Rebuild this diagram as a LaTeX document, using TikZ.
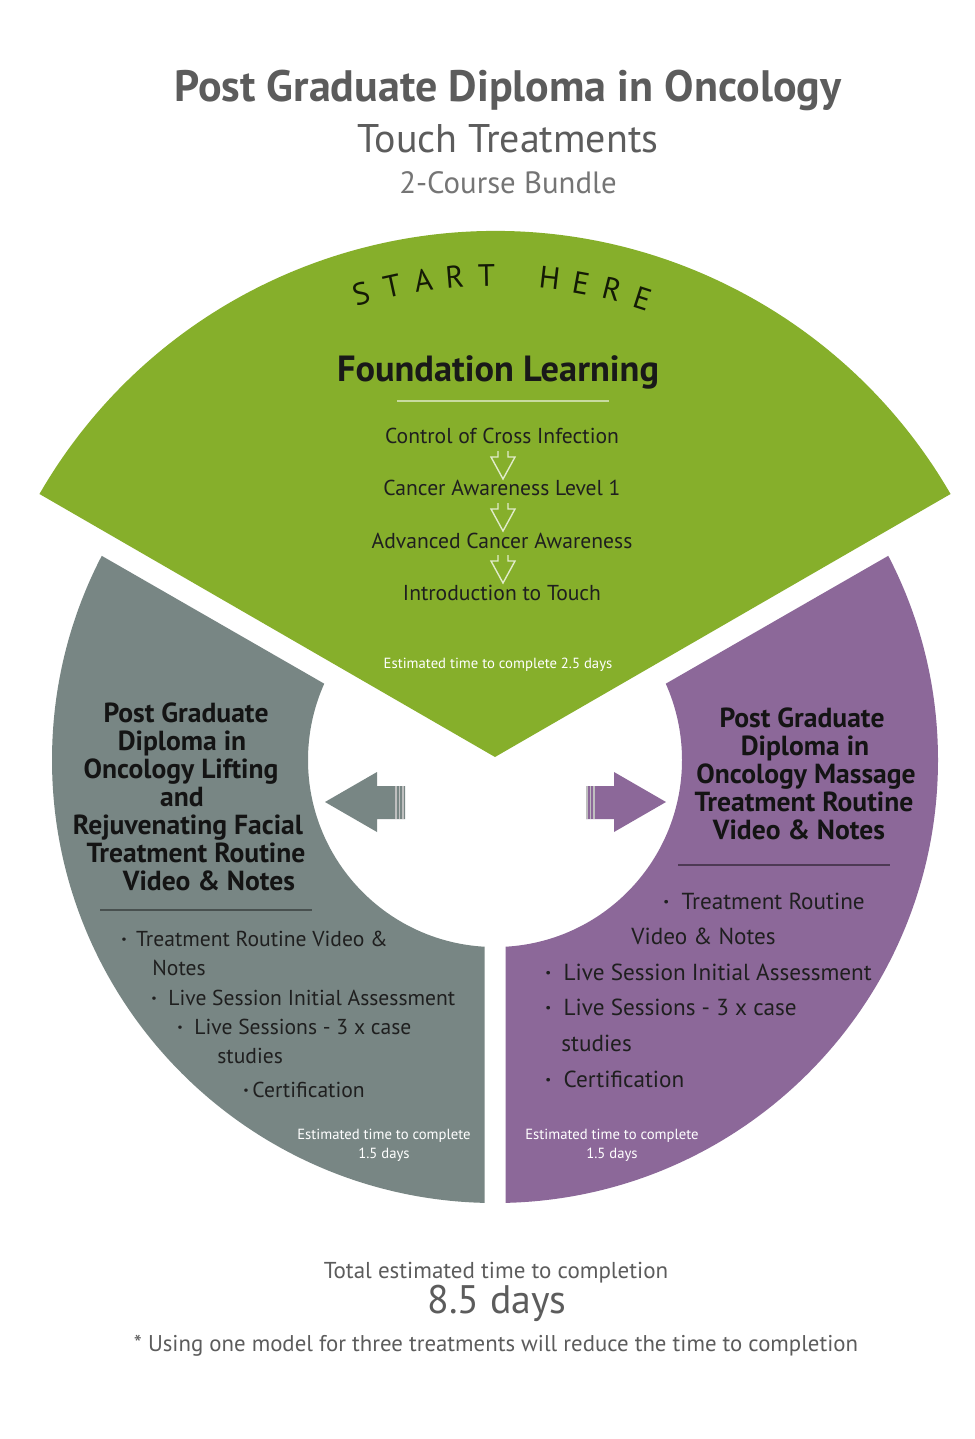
\documentclass[tikz,border=0pt]{standalone}
\usepackage{fontspec}
\setmainfont{PT Sans}
\usepackage{xcolor}
\usepackage{tikz}
\usetikzlibrary{calc}

\definecolor{leaf}{RGB}{134,175,43}
\definecolor{slate}{RGB}{120,134,132}
\definecolor{plum}{RGB}{140,104,153}
\definecolor{ink}{RGB}{92,92,92}

\tikzset{
  lbl/.style={inner sep=0pt, text height=0.7em, text depth=0pt},
  hdr/.style={lbl, font=\fontsize{13.8}{14}\selectfont\bfseries, text=black!92},
  blt/.style={lbl, anchor=west, font=\fontsize{10.8}{11}\selectfont, text=black!88},
  bltb/.style={blt, font=\fontsize{11.6}{12}\selectfont},
  fl/.style={lbl, font=\fontsize{10.8}{11}\selectfont, text=black!88},
  est/.style={lbl, font=\fontsize{7.35}{8}\selectfont, text=white},
  chev/.style={draw=leaf!25!white, line width=0.7pt, line join=miter},
  stripe/.style={draw=white!75!black, line width=0.55pt}
}

\begin{document}
\begin{tikzpicture}[x=0.5pt,y=-0.5pt]
    \useasboundingbox[fill=white] (0,0) rectangle (974,1439);

    % titel
    \node[lbl, font=\fontsize{22}{23}\selectfont\bfseries, text=ink] (title) at (508,95) {Post Graduate Diploma in Oncology};
    \node[lbl, font=\fontsize{20}{21}\selectfont, text=ink] (subtitle) at (508,146) {Touch Treatments};
    \node[lbl, font=\fontsize{15.4}{16}\selectfont, text=ink!85] (bundle) at (508,187) {2-Course Bundle};

    % segmente
    \fill[leaf] (495,757) -- ++(-150:526) arc[start angle=-150, end angle=-30, radius=526] -- cycle;
    \begin{scope}
        \clip (-10,491.6) -- (484.5,775.8) -- (484.5,1450) -- (-10,1450) -- cycle;
        \fill[slate, even odd rule] (495,760) circle[radius=443] (495,760) circle[radius=187];
    \end{scope}
    \begin{scope}
        \clip (1000,491.6) -- (505.5,775.8) -- (505.5,1450) -- (1000,1450) -- cycle;
        \fill[plum, even odd rule] (495,760) circle[radius=443] (495,760) circle[radius=187];
    \end{scope}

    % pfeile
    \fill[slate] (325,802) -- (377,772) -- (377,786) -- (405,786) -- (405,819) -- (377,819) -- (377,832) -- cycle;
    \fill[plum] (666,802) -- (614,772) -- (614,786) -- (586,786) -- (586,819) -- (614,819) -- (614,832) -- cycle;
    \foreach \sx in {396,399.5,403} {
        \draw[stripe] (\sx,786) -- (\sx,819);
        \draw[stripe] (990-\sx,786) -- (990-\sx,819);
    }

    % start here
    \foreach \ch [count=\i from 0] in {S,T,A,R,T,{},H,E,R,E}
        \node[lbl, font=\fontsize{15.5}{16}\selectfont, text=black!85!leaf, rotate={16.1-\i*3.77}] (sh\i) at ($(495,757)+({\i*3.77-106.1}:478)$) {\ch};

    % foundation
    \node[lbl, font=\fontsize{18.2}{19}\selectfont\bfseries, text=black!90] (found) at (498,374) {Foundation Learning};
    \draw[leaf!45!white, line width=0.6pt] (397,401) -- (609,401);
    \node[fl] (cross) at (502,436) {Control of Cross Infection};
    \node[fl] (aware) at (502,488) {Cancer Awareness Level 1};
    \node[fl] (advanced) at (502,541) {Advanced Cancer Awareness};
    \node[fl] (intro) at (502,593) {Introduction to Touch};
    \foreach \ys in {457,509,561}
        \draw[chev] (498,\ys-6) -- (498,\ys) -- (491,\ys) -- (503,\ys+22) -- (515,\ys) -- (508,\ys) -- (508,\ys-6);
    \node[est] (estA) at (498,661) {Estimated time to complete 2.5 days};

    % links
    \node[hdr] (lift1) at (186,715) {Post Graduate};
    \node[hdr] (lift2) at (182,743) {Diploma in};
    \node[hdr] (lift3) at (181,771) {Oncology Lifting};
    \node[hdr] (lift4) at (182,799) {and};
    \node[hdr] (lift5) at (188,827) {Rejuvenating Facial};
    \node[hdr] (lift6) at (196,855) {Treatment Routine};
    \node[hdr] (lift7) at (209,883) {Video \& Notes};
    \draw[slate!60!black, line width=0.6pt] (100,910) -- (312,910);
    \node[blt] (liftB1) at (121,939) {\textbf{·}\, Treatment Routine Video \&};
    \node[blt] (liftB2) at (152,968) {Notes};
    \node[blt] (liftB3) at (151,998) {\textbf{·}\ \ Live Session Initial Assessment};
    \node[blt] (liftB4) at (177,1027) {\textbf{·}\ \ Live Sessions - 3 x case};
    \node[blt] (liftB5) at (217,1056) {studies};
    \node[blt] (liftB6) at (243,1090) {\textbf{·}\,Certification};
    \node[est] (estB) at (384,1132) {Estimated time to complete};
    \node[est] (estB2) at (384,1151) {1.5 days};

    % rechts
    \node[hdr] (mass1) at (802,720) {Post Graduate};
    \node[hdr] (mass2) at (805,748) {Diploma in};
    \node[hdr] (mass3) at (806,776) {Oncology Massage};
    \node[hdr] (mass4) at (804,804) {Treatment Routine};
    \node[hdr] (mass5) at (799,832) {Video \& Notes};
    \draw[plum!55!black, line width=0.6pt] (678,865) -- (890,865);
    \node[bltb] (massB1) at (663,902) {\textbf{·}\ \ Treatment Routine};
    \node[bltb] (massB2) at (631,937) {Video \& Notes};
    \node[bltb] (massB3) at (545,973) {\textbf{·}\ \ Live Session Initial Assessment};
    \node[bltb] (massB4) at (545,1008) {\textbf{·}\ \ Live Sessions - 3 x case};
    \node[bltb] (massB5) at (561,1044) {studies};
    \node[bltb] (massB6) at (545,1080) {\textbf{·}\ \ Certification};
    \node[est] (estC) at (612,1132) {Estimated time to complete};
    \node[est] (estC2) at (612,1151) {1.5 days};

    % summe
    \node[lbl, font=\fontsize{11.5}{12}\selectfont, text=ink] (total) at (496,1271) {Total estimated time to completion};
    \node[lbl, font=\fontsize{19.9}{20}\selectfont, text=ink] (days) at (497,1306) {8.5 days};
    \node[lbl, font=\fontsize{11.4}{12}\selectfont, text=ink] (note) at (496,1344) {* Using one model for three treatments will reduce the time to completion};
\end{tikzpicture}
\end{document}
